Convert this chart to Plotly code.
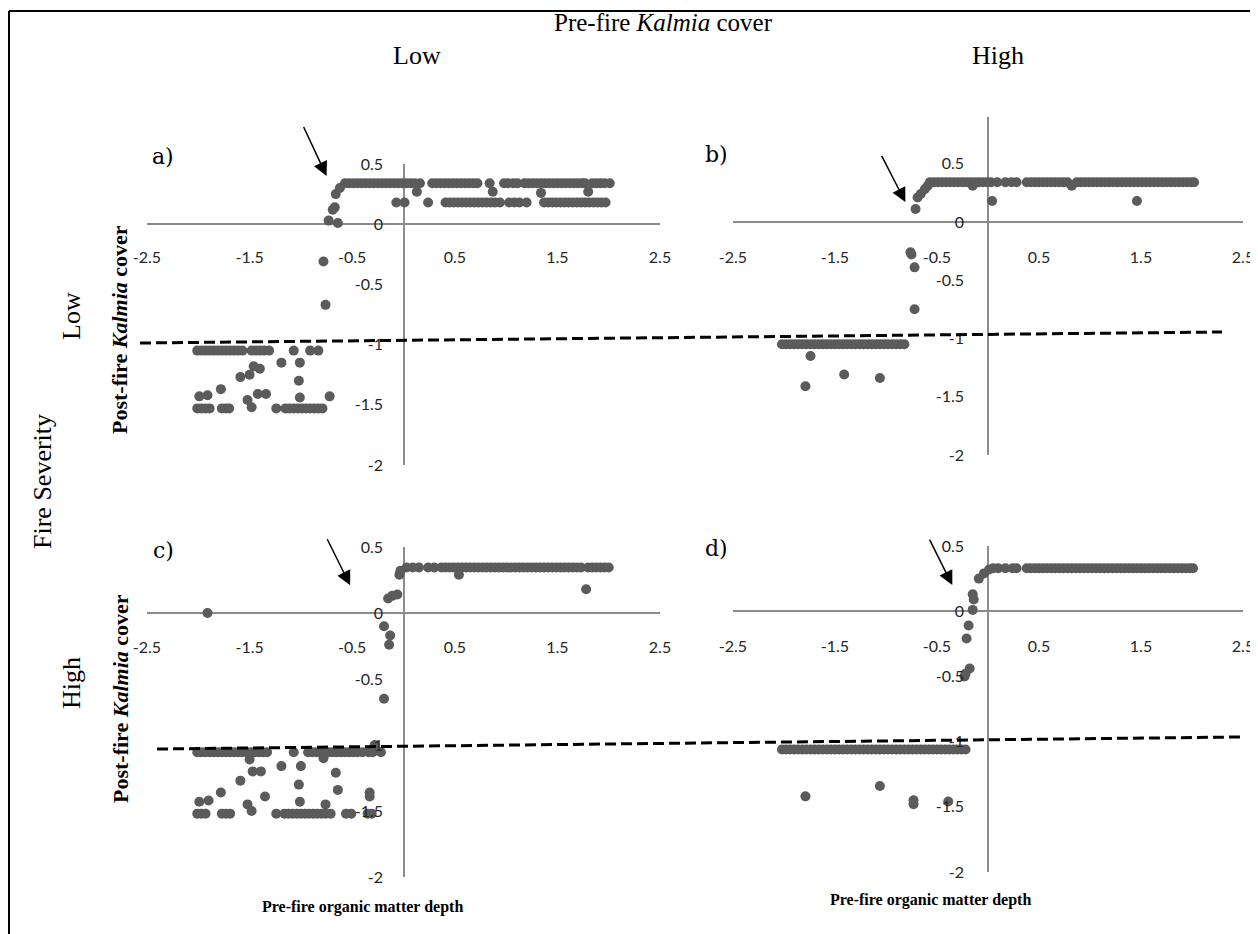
import plotly.graph_objects as go

W, H = 1258, 934

# ---------------- data ----------------
# Panel a  (Low severity, Low pre-fire Kalmia cover)
a_band_hi_y = 0.34
a_band_hi_x = [-0.57, -0.53, -0.49, -0.45, -0.41, -0.37, -0.33, -0.29, -0.25, -0.21, -0.17, -0.13,
               -0.09, -0.05, -0.01, 0.03, 0.07, 0.11, 0.16, 0.28, 0.32, 0.36, 0.40, 0.44, 0.48, 0.52,
               0.56, 0.60, 0.64, 0.68, 0.72, 0.84, 0.98, 1.02, 1.07, 1.11, 1.18, 1.22, 1.26, 1.30,
               1.34, 1.38, 1.42, 1.46, 1.50, 1.54, 1.58, 1.62, 1.66, 1.70, 1.74, 1.77, 1.84, 1.88,
               1.92, 1.96, 2.01]
a_band_lo_y = 0.18
a_band_lo_x = [-0.07, 0.01, 0.24, 0.41, 0.45, 0.49, 0.53, 0.57, 0.61, 0.65, 0.69, 0.73, 0.77, 0.81,
               0.85, 0.89, 0.94, 1.03, 1.08, 1.13, 1.20, 1.37, 1.41, 1.45, 1.49, 1.53, 1.57, 1.61,
               1.65, 1.69, 1.73, 1.77, 1.81, 1.85, 1.89, 1.93, 1.97]
a_row1_y = -1.05
a_row1_x = [-2.01, -1.97, -1.93, -1.89, -1.85, -1.81, -1.77, -1.73, -1.69, -1.65, -1.61, -1.57,
            -1.48, -1.44, -1.40, -1.36, -1.31, -1.07, -0.91, -0.83]
a_row2_y = -1.53
a_row2_x = [-2.01, -1.97, -1.93, -1.89, -1.77, -1.73, -1.70, -1.24, -1.15, -1.11, -1.07, -1.03,
            -0.99, -0.95, -0.91, -0.87, -0.83, -0.79]
a_pts_x = [0.13, 0.87, 1.80, 1.34, -0.66, -0.62, -0.69, -0.67, -0.73, -0.64, -0.78, -0.76,
           -1.46, -1.40, -1.19, -1.01, -1.59, -1.50, -1.02, -1.78, -1.99, -1.91, -1.52, -1.42,
           -1.34, -1.48, -1.01, -0.72]
a_pts_y = [0.27, 0.27, 0.27, 0.26, 0.25, 0.30, 0.12, 0.14, 0.03, 0.01, -0.31, -0.67,
           -1.18, -1.20, -1.15, -1.15, -1.27, -1.25, -1.30, -1.37, -1.43, -1.42, -1.46, -1.41,
           -1.41, -1.52, -1.44, -1.43]

# Panel b  (Low severity, High pre-fire Kalmia cover)
b_band_hi_y = 0.34
b_band_hi_x = [-0.57, -0.53, -0.49, -0.45, -0.41, -0.37, -0.33, -0.29, -0.25, -0.21, -0.17, -0.13,
               -0.09, -0.05, -0.01, 0.03, 0.09, 0.17, 0.23, 0.28, 0.38, 0.42, 0.46, 0.50, 0.54,
               0.58, 0.62, 0.66, 0.70, 0.74, 0.78, 0.87, 0.91, 0.95, 0.99, 1.03, 1.07, 1.11, 1.15,
               1.19, 1.23, 1.27, 1.31, 1.35, 1.39, 1.43, 1.47, 1.51, 1.55, 1.59, 1.63, 1.67, 1.71,
               1.75, 1.79, 1.83, 1.87, 1.91, 1.95, 1.99, 2.02]
b_row_y = -1.05
b_row_x = [-2.02, -1.98, -1.94, -1.90, -1.86, -1.82, -1.78, -1.74, -1.70, -1.66, -1.62, -1.58,
           -1.54, -1.50, -1.46, -1.42, -1.38, -1.34, -1.30, -1.26, -1.22, -1.18, -1.14, -1.10,
           -1.06, -1.02, -0.98, -0.94, -0.90, -0.86, -0.82]
b_pts_x = [-0.15, 0.82, -0.69, -0.66, -0.62, -0.59, -0.71, 0.04, 1.46, -0.76, -0.75, -0.72,
           -0.72, -1.74, -1.41, -1.06, -1.79]
b_pts_y = [0.31, 0.31, 0.21, 0.24, 0.28, 0.31, 0.11, 0.18, 0.18, -0.26, -0.28, -0.39,
           -0.75, -1.15, -1.31, -1.34, -1.41]

# Panel c  (High severity, Low pre-fire Kalmia cover)
c_band_hi_y = 0.345
c_band_hi_x = [0.03, 0.09, 0.15, 0.24, 0.30, 0.37, 0.41, 0.45, 0.49, 0.53, 0.57, 0.61, 0.65, 0.69,
               0.73, 0.77, 0.81, 0.85, 0.89, 0.93, 0.97, 1.01, 1.05, 1.09, 1.13, 1.17, 1.21, 1.25,
               1.29, 1.33, 1.37, 1.41, 1.45, 1.49, 1.53, 1.57, 1.61, 1.65, 1.69, 1.73, 1.80, 1.84,
               1.88, 1.92, 1.96, 2.00]
c_row1_y = -1.055
c_row1_x = [-2.01, -1.97, -1.93, -1.89, -1.85, -1.81, -1.77, -1.73, -1.69, -1.65, -1.61, -1.57,
            -1.53, -1.49, -1.45, -1.41, -1.37, -1.33, -1.07, -0.93, -0.89, -0.85, -0.81, -0.77,
            -0.73, -0.69, -0.65, -0.61, -0.57, -0.53, -0.49, -0.45, -0.40, -0.34, -0.30, -0.22]
c_row2_y = -1.52
c_row2_x = [-2.01, -1.97, -1.93, -1.77, -1.73, -1.69, -1.24, -1.16, -1.12, -1.08, -1.04, -1.00,
            -0.96, -0.92, -0.88, -0.84, -0.80, -0.76, -0.71, -0.56, -0.51, -0.35, -0.31]
c_pts_x = [-0.04, -0.03, 0.54, 1.78, -0.15, -0.11, -0.06, -1.91, -0.19, -0.13, -0.14, -0.19,
           -0.28, -1.50, -0.78, -1.47, -1.39, -1.19, -1.00, -0.66, -1.59, -1.02, -0.64, -0.33,
           -0.33, -1.78, -1.35, -1.99, -1.90, -1.52, -1.48, -1.01, -0.76]
c_pts_y = [0.29, 0.32, 0.29, 0.18, 0.11, 0.13, 0.14, 0.00, -0.10, -0.17, -0.24, -0.65,
           -1.00, -1.11, -1.10, -1.20, -1.20, -1.16, -1.16, -1.21, -1.27, -1.30, -1.34, -1.36,
           -1.39, -1.36, -1.39, -1.43, -1.42, -1.45, -1.50, -1.43, -1.45]

# Panel d  (High severity, High pre-fire Kalmia cover)
d_band_hi_y = 0.33
d_band_hi_x = [0.10, 0.17, 0.24, 0.28, 0.38, 0.42, 0.46, 0.50, 0.54, 0.58, 0.62, 0.66, 0.70, 0.74,
               0.78, 0.82, 0.86, 0.90, 0.94, 0.98, 1.02, 1.06, 1.10, 1.14, 1.18, 1.22, 1.26, 1.30,
               1.34, 1.38, 1.42, 1.46, 1.50, 1.54, 1.58, 1.62, 1.66, 1.70, 1.74, 1.78, 1.82, 1.86,
               1.90, 1.94, 1.98, 2.01]
d_row_y = -1.06
d_row_x = [-2.02, -1.98, -1.94, -1.90, -1.86, -1.82, -1.78, -1.74, -1.70, -1.66, -1.62, -1.58,
           -1.54, -1.50, -1.46, -1.42, -1.38, -1.34, -1.30, -1.26, -1.22, -1.18, -1.14, -1.10,
           -1.06, -1.02, -0.98, -0.94, -0.90, -0.86, -0.82, -0.78, -0.74, -0.70, -0.66, -0.62,
           -0.58, -0.54, -0.50, -0.46, -0.42, -0.38, -0.34, -0.30, -0.26, -0.22]
d_pts_x = [-0.09, -0.04, 0.01, 0.05, -0.15, -0.14, -0.15, -0.19, -0.21, -0.18, -0.22, -0.23,
           -1.06, -1.79, -0.73, -0.73, -0.39]
d_pts_y = [0.25, 0.29, 0.32, 0.33, 0.13, 0.09, 0.01, -0.11, -0.21, -0.44, -0.48, -0.50,
           -1.34, -1.42, -1.45, -1.48, -1.46]

x_tickvals = [-2.5, -1.5, -0.5, 0.5, 1.5, 2.5]
x_ticktext = ["-2.5", "-1.5", "-0.5", "0.5", "1.5", "2.5"]
y_tickvals = [-2, -1.5, -1, -0.5, 0, 0.5]
y_ticktext = ["-2", "-1.5", "-1", "-0.5", "0", "0.5"]

panel_letters = ["a)", "b)", "c)", "d)"]

# ---------------- helpers ----------------
OFF = 8  # the page body margin that offsets the figure in the browser window


def fx(p):
    return (p - OFF) / W


def fy(p):
    return 1 - (p - OFF) / H


def combine(bands, px, py):
    xs, ys = [], []
    for bx, by in bands:
        xs += bx
        ys += [by] * len(bx)
    return xs + px, ys + py


panel_data = [
    combine([(a_band_hi_x, a_band_hi_y), (a_band_lo_x, a_band_lo_y),
             (a_row1_x, a_row1_y), (a_row2_x, a_row2_y)], a_pts_x, a_pts_y),
    combine([(b_band_hi_x, b_band_hi_y), (b_row_x, b_row_y)], b_pts_x, b_pts_y),
    combine([(c_band_hi_x, c_band_hi_y), (c_row1_x, c_row1_y), (c_row2_x, c_row2_y)],
            c_pts_x, c_pts_y),
    combine([(d_band_hi_x, d_band_hi_y), (d_row_x, d_row_y)], d_pts_x, d_pts_y),
]

# layout of panels in window pixels: x-domain, y-domain(top,bottom), y-range,
# x label row, y label edge
panels = [
    dict(xd=(147, 660), yd=(164, 465), yr=(-2, 0.5), xlab=246, ylab=383),
    dict(xd=(733, 1243), yd=(117, 455), yr=(-2, 0.9), xlab=246, ylab=964),
    dict(xd=(147, 660), yd=(547, 877), yr=(-2, 0.5), xlab=636, ylab=383),
    dict(xd=(733, 1243), yd=(546, 872), yr=(-2, 0.5), xlab=635, ylab=964),
]

# arrows (tail -> tip) in each panel's data units; letters in pixels
arrows = [((-0.98, 0.82), (-0.75, 0.40)),
          ((-1.05, 0.58), (-0.81, 0.17)),
          ((-0.75, 0.57), (-0.52, 0.21)),
          ((-0.58, 0.56), (-0.35, 0.20))]
letter_px = [(163, 157), (716, 155), (163, 550), (716, 548)]

AXIS_GRAY = "#8c8c8c"
DOT = "#5b5b5b"
TICKFONT = dict(family="Lato, Carlito, sans-serif", size=16, color="#262626")
SERIF = "Liberation Serif, Times New Roman, serif"

fig = go.Figure()
layout = dict(
    width=W, height=H, margin=dict(l=0, r=0, t=0, b=0, autoexpand=False),
    paper_bgcolor="white", plot_bgcolor="white", showlegend=False,
)
annotations = []
shapes = []

for i, (p, (xs, ys)) in enumerate(zip(panels, panel_data), start=1):
    xa = "x" if i == 1 else f"x{i}"
    ya = "y" if i == 1 else f"y{i}"
    fig.add_trace(go.Scatter(
        x=xs, y=ys, mode="markers", xaxis=xa, yaxis=ya,
        marker=dict(size=10, color=DOT), hoverinfo="skip",
    ))
    layout["xaxis" if i == 1 else f"xaxis{i}"] = dict(
        domain=[fx(p["xd"][0]), fx(p["xd"][1])], range=[-2.5, 2.5],
        anchor="free", position=fy(p["xlab"]), automargin=False,
        tickvals=x_tickvals, ticktext=x_ticktext, tickfont=TICKFONT, ticks="",
        showgrid=False, showline=False,
        zeroline=True, zerolinecolor=AXIS_GRAY, zerolinewidth=2, fixedrange=True,
    )
    layout["yaxis" if i == 1 else f"yaxis{i}"] = dict(
        domain=[fy(p["yd"][1]), fy(p["yd"][0])], range=list(p["yr"]),
        anchor="free", position=fx(p["ylab"]), automargin=False,
        tickvals=y_tickvals, ticktext=y_ticktext, tickfont=TICKFONT, ticks="",
        showgrid=False, showline=False,
        zeroline=True, zerolinecolor=AXIS_GRAY, zerolinewidth=2, fixedrange=True,
    )
    (tx, ty), (hx, hy) = arrows[i - 1]
    annotations.append(dict(
        xref=xa, yref=ya, axref=xa, ayref=ya, x=hx, y=hy, ax=tx, ay=ty,
        text="", showarrow=True, arrowhead=2, arrowsize=1.9, arrowwidth=1.5,
        arrowcolor="black",
    ))
    lx, ly = letter_px[i - 1]
    annotations.append(dict(
        xref="paper", yref="paper", x=fx(lx), y=fy(ly), text=panel_letters[i - 1],
        showarrow=False, xanchor="center", yanchor="middle",
        font=dict(family="DejaVu Serif, serif", size=22, color="black"),
    ))

# titles / labels (paper coordinates from pixels)
def txt(px, py, text, size, angle=0, yanchor="middle"):
    annotations.append(dict(
        xref="paper", yref="paper", x=fx(px), y=fy(py), text=text, showarrow=False,
        textangle=angle, xanchor="center", yanchor=yanchor, borderpad=0,
        font=dict(family=SERIF, size=size, color="black"),
    ))

txt(663, 8, "Pre-fire <i>Kalmia</i> cover", 25, yanchor="top")
txt(417, 55, "Low", 26)
txt(998, 55, "High", 26)
txt(43, 482, "Fire Severity", 26, angle=-90)
txt(71, 316, "Low", 26, angle=-90)
txt(71, 683, "High", 26, angle=-90)
txt(120, 329, "<b>Post-fire <i>Kalmia</i> cover</b>", 22, angle=-90)
txt(120, 698, "<b>Post-fire <i>Kalmia</i> cover</b>", 22, angle=-90)
txt(362, 907, "<b>Pre-fire organic matter depth</b>", 16)
txt(930, 900, "<b>Pre-fire organic matter depth</b>", 16)

# dashed threshold lines
for (x0, y0, x1, y1) in [(140, 343, 1222, 332), (157, 749, 1240, 737)]:
    shapes.append(dict(type="line", xref="paper", yref="paper",
                       x0=fx(x0), y0=fy(y0), x1=fx(x1), y1=fy(y1),
                       line=dict(color="black", width=3, dash="11px,5px")))

# frame (left and top edges)
shapes.append(dict(type="line", xref="paper", yref="paper", x0=fx(9), y0=fy(11), x1=fx(9), y1=fy(H + 20),
                   line=dict(color="black", width=2)))
shapes.append(dict(type="line", xref="paper", yref="paper", x0=fx(9), y0=fy(11), x1=fx(W + 20), y1=fy(11),
                   line=dict(color="black", width=2)))

layout["annotations"] = annotations
layout["shapes"] = shapes
fig.update_layout(**layout)
fig.write_html("out.html")
